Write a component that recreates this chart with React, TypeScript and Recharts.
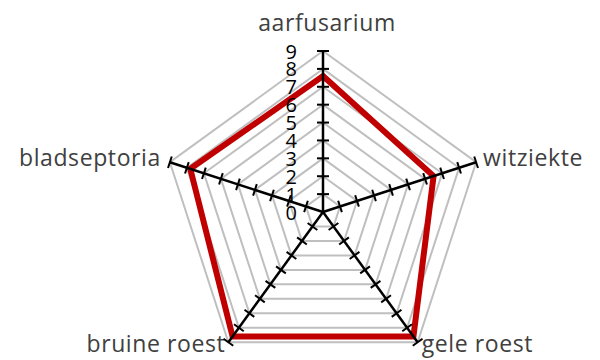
import { RadarChart, Radar, PolarGrid, PolarAngleAxis, PolarRadiusAxis } from "recharts";

const categories = ["aarfusarium", "witziekte", "gele roest", "bruine roest", "bladseptoria"];
const scores = [7.6, 6.5, 8.6, 8.6, 7.8];
const scaleTicks = [0, 1, 2, 3, 4, 5, 6, 7, 8, 9];

const CX = 315;
const CY = 204;
const RADIUS = 161;
const FONT = "'Open Sans', Lato, sans-serif";

const data = categories.map((name, i) => ({ name, score: scores[i] }));

// spoke angles in degrees, top first, going clockwise
const spokeAngles = categories.map((_, i) => 90 - i * 72);

// label offsets from the spoke end: [dx, dy, anchor]
const labelOffsets: [number, number, "start" | "middle" | "end"][] = [
  [4, -20, "middle"],
  [7, 4, "start"],
  [4, 10, "start"],
  [-3, 10, "end"],
  [-9, 4, "end"],
];

const RadiusTick = (props: any) => {
  const { x, y, payload } = props;
  const r = Math.hypot(x - CX, y - CY);
  return (
    <g>
      {payload.value === 9 &&
        spokeAngles.map((a) => {
          const rad = (a * Math.PI) / 180;
          return (
            <line
              key={"s" + a}
              x1={CX}
              y1={CY}
              x2={CX + r * Math.cos(rad)}
              y2={CY - r * Math.sin(rad)}
              stroke="#000"
              strokeWidth={2.5}
            />
          );
        })}
      {payload.value > 0 &&
        spokeAngles.map((a) => {
          const rad = (a * Math.PI) / 180;
          const px = CX + r * Math.cos(rad);
          const py = CY - r * Math.sin(rad);
          const nx = Math.sin(rad) * 6;
          const ny = Math.cos(rad) * 6;
          return (
            <line key={"t" + a} x1={px - nx} y1={py - ny} x2={px + nx} y2={py + ny} stroke="#000" strokeWidth={2} />
          );
        })}
      <text
        x={x - 26}
        y={y}
        textAnchor="end"
        dominantBaseline="central"
        fontFamily={FONT}
        fontSize={20}
        fill="#000"
      >
        {payload.value}
      </text>
    </g>
  );
};

const AngleTick = (props: any) => {
  const { x, y, payload, index } = props;
  const d = Math.hypot(x - CX, y - CY) || 1;
  const ex = CX + ((x - CX) / d) * RADIUS;
  const ey = CY + ((y - CY) / d) * RADIUS;
  const [dx, dy, anchor] = labelOffsets[index] ?? [0, 0, "middle"];
  return (
    <text
      x={ex + dx}
      y={ey + dy}
      textAnchor={anchor}
      fontFamily={FONT}
      fontSize={23}
      letterSpacing={0.6}
      fill="#404040"
    >
      {payload.value}
    </text>
  );
};

export default function App() {
  return (
    <div style={{ width: 592, height: 352, background: "#fff" }}>
      <RadarChart
        width={592}
        height={352}
        data={data}
        cx={CX}
        cy={CY}
        outerRadius={RADIUS}
        startAngle={90}
        endAngle={-270}
        margin={{ top: 0, right: 0, bottom: 0, left: 0 }}
      >
        <PolarGrid gridType="polygon" stroke="#BFBFBF" strokeWidth={2} radialLines={false} />
        <PolarAngleAxis dataKey="name" tick={AngleTick} tickLine={false} axisLine={false} />
        <Radar
          dataKey="score"
          stroke="#C00000"
          strokeWidth={6}
          fill="none"
          fillOpacity={0}
          strokeLinejoin="miter"
          dot={false}
          isAnimationActive={false}
        />
        <PolarRadiusAxis
          angle={90}
          domain={[0, 9]}
          ticks={scaleTicks as any}
          tickCount={10}
          axisLine={false}
          tick={RadiusTick}
        />
      </RadarChart>
    </div>
  );
}
